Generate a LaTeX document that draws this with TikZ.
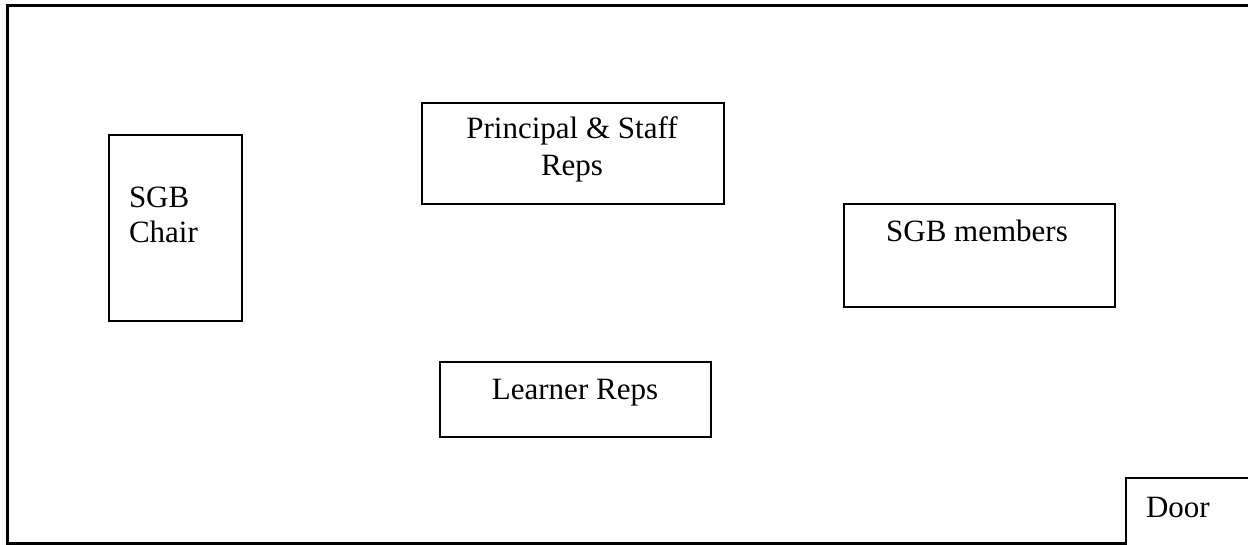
\documentclass[tikz,border=0pt]{standalone}
\usepackage{fontspec}
\setmainfont{Liberation Serif}

\begin{document}
\begin{tikzpicture}[x=0.5pt,y=-0.5pt,line width=1pt,
                    table box/.style={draw,inner sep=0pt,anchor=north west},
                    room text/.style={inner sep=0pt,font=\fontsize{15.5}{18.5}\selectfont}]
  \useasboundingbox (0,0) rectangle (1248,545);
  % walls and door
  \coordinate (topright) at (1248,6);
  \coordinate (topleft) at (7,6);
  \coordinate (bottomleft) at (7,543);
  \coordinate (doorbottom) at (1126,543);
  \coordinate (doorfoot) at (1126,545);
  \coordinate (doortop) at (1126,478);
  \coordinate (doorright) at (1248,478);
  \draw[line width=1.5pt] (topright) -- (topleft) -- (bottomleft) -- (doorbottom);
  \draw (doorfoot) -- (doortop) -- (doorright);
  % tables
  \node[table box,minimum width=66.5pt,minimum height=93pt] (chair) at (108,134) {};
  \node[table box,minimum width=151pt,minimum height=50.5pt] (staff) at (421,102) {};
  \node[table box,minimum width=135.5pt,minimum height=51.5pt] (members) at (843,203) {};
  \node[table box,minimum width=135.5pt,minimum height=37.5pt] (learners) at (439,361) {};
  % names (base = last line)
  \node[room text,anchor=base west,align=left,font=\fontsize{15.5}{17.5}\selectfont] (chair text) at (128,243) {SGB\\Chair};
  \node[room text,anchor=base,align=center] (staff text) at (572,176) {Principal \& Staff\\Reps};
  \node[room text,anchor=base] (members text) at (977,242) {SGB members};
  \node[room text,anchor=base] (learners text) at (575,400) {Learner Reps};
  \node[room text,anchor=base west] (door) at (1145,517) {Door};
\end{tikzpicture}
\end{document}
